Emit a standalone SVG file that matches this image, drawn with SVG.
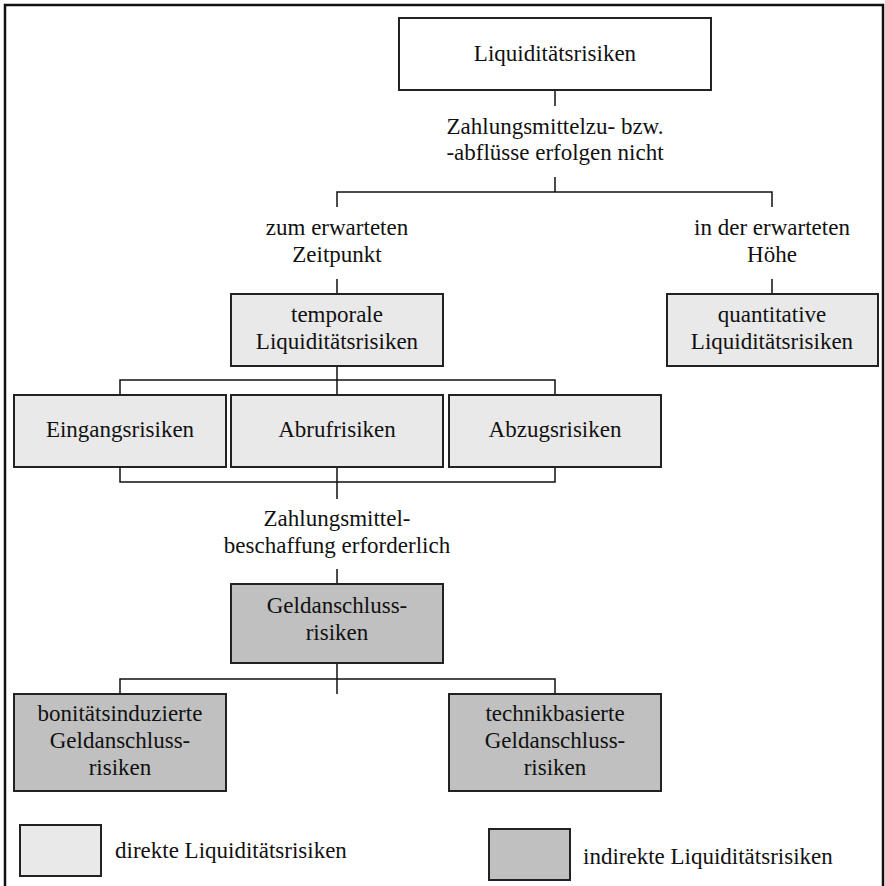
<svg xmlns="http://www.w3.org/2000/svg" width="885" height="886" viewBox="0 0 885 886">
  <style>
    text { font-family: "Liberation Serif", "Times New Roman", serif; font-size: 23px; fill: #111; text-anchor: middle; }
    .box { stroke: #222; stroke-width: 2; }
    .plain { fill: #fff; }
    .direct { fill: #e9e9e9; }
    .indirect { fill: #c0c0c0; }
    .conn { fill: none; stroke: #111; stroke-width: 1.5; }
    .legend { text-anchor: start; }
  </style>

  <!-- frame -->
  <rect x="5" y="5" width="878" height="890" fill="#fff" stroke="#111" stroke-width="2.5"/>

  <!-- connectors -->
  <g id="connectors" class="conn">
    <path d="M555 90 V106"/>
    <path d="M555 177 V192 M337 207 V192 H772 V207"/>
    <path d="M337 279 V294 M772 279 V294"/>
    <path d="M337 366 V395 M120 395 V380 H555 V395"/>
    <path d="M120 467 V482 H555 V467 M337 467 V499"/>
    <path d="M337 569 V584"/>
    <path d="M337 663 V694 M120 694 V679 H555 V694"/>
  </g>

  <g id="liquiditaetsrisiken">
    <rect class="box plain" x="399" y="18" width="312" height="72"/>
    <text x="555" y="61">Liquiditätsrisiken</text>
  </g>

  <g id="label-zahlungsmittel">
    <text x="555" y="134">Zahlungsmittelzu- bzw.</text>
    <text x="555" y="160">-abflüsse erfolgen nicht</text>
  </g>

  <g id="label-zeitpunkt">
    <text x="337" y="235">zum erwarteten</text>
    <text x="337" y="262">Zeitpunkt</text>
  </g>

  <g id="label-hoehe">
    <text x="772" y="235">in der erwarteten</text>
    <text x="772" y="262">Höhe</text>
  </g>

  <g id="temporale">
    <rect class="box direct" x="231" y="294" width="212" height="72"/>
    <text x="337" y="322">temporale</text>
    <text x="337" y="349">Liquiditätsrisiken</text>
  </g>

  <g id="quantitative">
    <rect class="box direct" x="667" y="294" width="211" height="72"/>
    <text x="772" y="322">quantitative</text>
    <text x="772" y="349">Liquiditätsrisiken</text>
  </g>

  <g id="eingangsrisiken">
    <rect class="box direct" x="14" y="395" width="212" height="72"/>
    <text x="120" y="437">Eingangsrisiken</text>
  </g>

  <g id="abrufrisiken">
    <rect class="box direct" x="231" y="395" width="212" height="72"/>
    <text x="337" y="437">Abrufrisiken</text>
  </g>

  <g id="abzugsrisiken">
    <rect class="box direct" x="449" y="395" width="212" height="72"/>
    <text x="555" y="437">Abzugsrisiken</text>
  </g>

  <g id="label-beschaffung">
    <text x="337" y="526">Zahlungsmittel-</text>
    <text x="337" y="553">beschaffung erforderlich</text>
  </g>

  <g id="geldanschlussrisiken">
    <rect class="box indirect" x="231" y="584" width="212" height="79"/>
    <text x="337" y="613">Geldanschluss-</text>
    <text x="337" y="640">risiken</text>
  </g>

  <g id="bonitaetsinduziert">
    <rect class="box indirect" x="14" y="694" width="212" height="97"/>
    <text x="120" y="721">bonitätsinduzierte</text>
    <text x="120" y="748">Geldanschluss-</text>
    <text x="120" y="775">risiken</text>
  </g>

  <g id="technikbasiert">
    <rect class="box indirect" x="449" y="694" width="212" height="97"/>
    <text x="555" y="721">technikbasierte</text>
    <text x="555" y="748">Geldanschluss-</text>
    <text x="555" y="775">risiken</text>
  </g>

  <!-- legend -->
  <g id="legend-direkt">
    <rect class="box direct" x="20" y="825" width="81" height="51"/>
    <text class="legend" x="115" y="858">direkte Liquiditätsrisiken</text>
  </g>
  <g id="legend-indirekt">
    <rect class="box indirect" x="489" y="829" width="81" height="51"/>
    <text class="legend" x="583" y="864">indirekte Liquiditätsrisiken</text>
  </g>
</svg>
